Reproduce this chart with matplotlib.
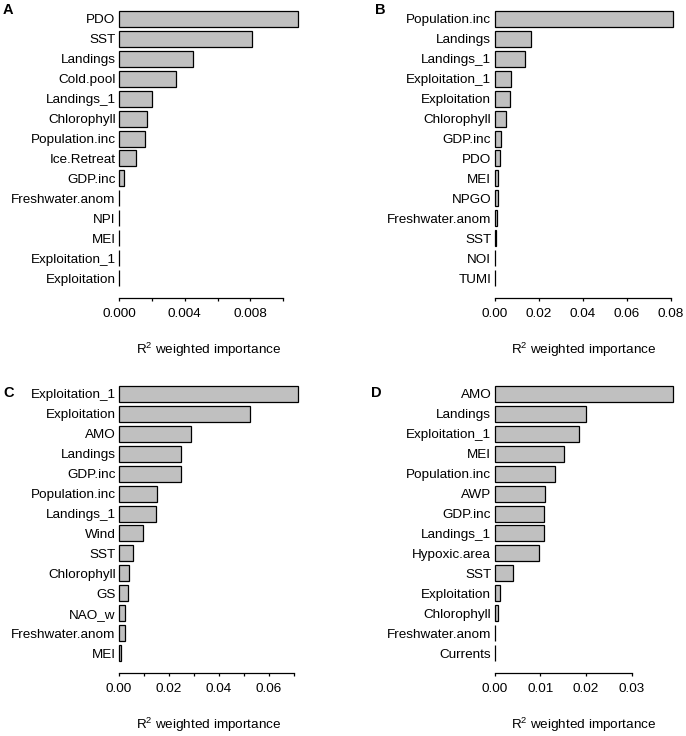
import matplotlib
matplotlib.use("Agg")
import matplotlib.pyplot as plt
import numpy as np

plt.rcParams['font.family'] = ['Liberation Sans', 'DejaVu Sans']
plt.rcParams['mathtext.fontset'] = 'custom'
plt.rcParams['mathtext.rm'] = 'Liberation Sans'
plt.rcParams['mathtext.it'] = 'Liberation Sans:italic'

# ---------------- data ----------------
labels_A = ["PDO", "SST", "Landings", "Cold.pool", "Landings_1", "Chlorophyll",
            "Population.inc", "Ice.Retreat", "GDP.inc", "Freshwater.anom", "NPI",
            "MEI", "Exploitation_1", "Exploitation"]
values_A = [0.01087, 0.00809, 0.00453, 0.00348, 0.00203, 0.00169, 0.00159,
            0.00102, 0.00030, 0.00003, 0.00002, 0.00002, 0.00001, 0.00001]
ticks_A = [0.000, 0.002, 0.004, 0.006, 0.008, 0.010]
ticklabels_A = ["0.000", "", "0.004", "", "0.008", ""]

labels_B = ["Population.inc", "Landings", "Landings_1", "Exploitation_1",
            "Exploitation", "Chlorophyll", "GDP.inc", "PDO", "MEI", "NPGO",
            "Freshwater.anom", "SST", "NOI", "TUMI"]
values_B = [0.0811, 0.0165, 0.0138, 0.0076, 0.0071, 0.0053, 0.0027, 0.0026,
            0.0014, 0.0013, 0.0012, 0.0006, 0.0003, 0.0001]
ticks_B = [0.00, 0.02, 0.04, 0.06, 0.08]
ticklabels_B = ["0.00", "0.02", "0.04", "0.06", "0.08"]

labels_C = ["Exploitation_1", "Exploitation", "AMO", "Landings", "GDP.inc",
            "Population.inc", "Landings_1", "Wind", "SST", "Chlorophyll", "GS",
            "NAO_w", "Freshwater.anom", "MEI"]
values_C = [0.0716, 0.0526, 0.0288, 0.0248, 0.0247, 0.0154, 0.0147, 0.0096,
            0.0055, 0.0040, 0.0037, 0.0024, 0.0023, 0.0009]
ticks_C = [0.00, 0.01, 0.02, 0.03, 0.04, 0.05, 0.06, 0.07]
ticklabels_C = ["0.00", "", "0.02", "", "0.04", "", "0.06", ""]

labels_D = ["AMO", "Landings", "Exploitation_1", "MEI", "Population.inc", "AWP",
            "GDP.inc", "Landings_1", "Hypoxic.area", "SST", "Exploitation",
            "Chlorophyll", "Freshwater.anom", "Currents"]
values_D = [0.0391, 0.0201, 0.0185, 0.0151, 0.0132, 0.0110, 0.0107, 0.0107,
            0.0096, 0.0041, 0.0012, 0.0008, 0.0001, 0.00005]
ticks_D = [0.00, 0.01, 0.02, 0.03]
ticklabels_D = ["0.00", "0.01", "0.02", "0.03"]

panels = [("A", labels_A, values_A, ticks_A, ticklabels_A),
          ("B", labels_B, values_B, ticks_B, ticklabels_B),
          ("C", labels_C, values_C, ticks_C, ticklabels_C),
          ("D", labels_D, values_D, ticks_D, ticklabels_D)]

# ---------------- layout ----------------
W, H = 686, 736
fig = plt.figure(figsize=(W / 100, H / 100), dpi=100)

# pixel geometry (left, top, width, height) and letter positions
geom = {"A": (119, 0, 178.5, 298, 3, 10),
        "B": (494.7, 0, 178.5, 298, 375, 10),
        "C": (119, 375, 178.5, 298, 3, 393),
        "D": (494.7, 375, 178.5, 298, 371, 393)}

FS = 9.7
for letter, labs, vals, ticks, tlabs in panels:
    l, t, w, h, lx, ly = geom[letter]
    ax = fig.add_axes([l / W, 1 - (t + h) / H, w / W, h / H])
    n = len(labs)
    y = np.arange(n)
    bars = ax.barh(y, vals, height=0.8, color="#c0c0c0", edgecolor="black",
                   linewidth=0.9, align="center")
    for b in bars:
        b.set_clip_on(False)
    ax.set_xlim(0, max(vals))
    ax.set_ylim(n - 1 + 0.4 + 0.6, -0.4 - 0.55)
    for s in ["top", "right", "left"]:
        ax.spines[s].set_visible(False)
    ax.spines["bottom"].set_bounds(ticks[0], ticks[-1])
    ax.spines["bottom"].set_linewidth(0.9)
    ax.spines["bottom"].set_clip_on(False)
    ax.set_xticks(ticks)
    ax.set_xticklabels(tlabs)
    for tl in ax.xaxis.get_major_ticks():
        tl.tick1line.set_clip_on(False)
    ax.set_yticks(y)
    ax.set_yticklabels(labs)
    ax.tick_params(axis="y", length=0, pad=2.5, labelsize=FS)
    ax.tick_params(axis="x", length=2.5, width=0.9, pad=4.5, labelsize=FS,
                   direction="out")
    ax.annotate(r"R$^2$ weighted importance", xy=(0.5, 0), xycoords="axes fraction",
                xytext=(0, -52), textcoords="offset pixels",
                ha="center", va="center", fontsize=FS)
    fig.text(lx / W, 1 - ly / H, letter, fontsize=10.5, fontweight="bold",
             ha="left", va="center")

fig.savefig("out.png", dpi=100)
